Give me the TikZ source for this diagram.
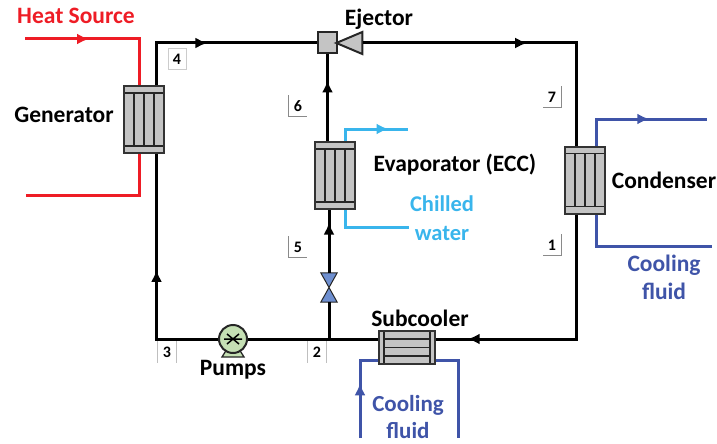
\documentclass[tikz,border=0pt]{standalone}
\usepackage{fontspec}
\setmainfont{Carlito}
\usetikzlibrary{arrows.meta, decorations.markings, shapes.geometric, calc}
\definecolor{hxgray}{HTML}{C4C4C4}
\definecolor{srcred}{HTML}{EE1C25}
\definecolor{coolblue}{HTML}{3F54A8}
\definecolor{chillblue}{HTML}{39B5EC}
\definecolor{pumpgreen}{HTML}{C5E0B4}
\definecolor{valveblue}{HTML}{6E8FD0}
\definecolor{tagline}{HTML}{8A8A8A}

\begin{document}
\begin{tikzpicture}[
    x=1pt, y=-1pt,
    hxv/.style={draw=black!80, line width=2pt, fill=hxgray, minimum width=40pt, minimum height=67pt, inner sep=0pt,
                path picture={
                    \draw[black!85, line width=1.8pt]
                        ([yshift=-7pt]path picture bounding box.north west) -- ([yshift=-7pt]path picture bounding box.north east)
                        ([yshift=7pt]path picture bounding box.south west) -- ([yshift=7pt]path picture bounding box.south east)
                        ([xshift=-10pt,yshift=-7pt]path picture bounding box.north) -- ([xshift=-10pt,yshift=7pt]path picture bounding box.south)
                        ([yshift=-7pt]path picture bounding box.north) -- ([yshift=7pt]path picture bounding box.south)
                        ([xshift=10pt,yshift=-7pt]path picture bounding box.north) -- ([xshift=10pt,yshift=7pt]path picture bounding box.south);
                }},
    hxh/.style={draw=black!80, line width=2pt, fill=hxgray, minimum width=56pt, minimum height=33pt, inner sep=0pt,
                path picture={
                    \draw[black!85, line width=1.8pt]
                        ([xshift=5pt]path picture bounding box.north west) -- ([xshift=5pt]path picture bounding box.south west)
                        ([xshift=-5pt]path picture bounding box.north east) -- ([xshift=-5pt]path picture bounding box.south east)
                        ([xshift=5pt,yshift=-8pt]path picture bounding box.north west) -- ([xshift=-5pt,yshift=-8pt]path picture bounding box.north east)
                        ([xshift=5pt]path picture bounding box.west) -- ([xshift=-5pt]path picture bounding box.east)
                        ([xshift=5pt,yshift=8pt]path picture bounding box.south west) -- ([xshift=-5pt,yshift=8pt]path picture bounding box.south east);
                }},
    lbl/.style={font=\bfseries\fontsize{23.5}{26}\selectfont, align=center, inner sep=0pt},
    tag/.style={font=\bfseries\fontsize{16}{18}\selectfont, inner sep=0pt, minimum width=18pt, minimum height=21pt},
    tagedge/.style={tagline, line width=0.7pt},
    main/.style={black, line width=3pt},
    fluid/.style={line width=3pt},
    midtip/.style={postaction={decorate, decoration={markings, mark=at position #1 with {\arrow{Latex[length=12pt,width=11pt]}}}}},
]
\useasboundingbox (0,0) rectangle (717,444);
% heat exchangers
\node[hxv] (generator) at (144,119.5) {};
\node[hxv] (evaporator) at (335,175.5) {};
\node[hxv] (condenser) at (585,180) {};
\node[hxh] (subcooler) at (407,347.5) {};
% ejector
\node[draw=black!85, line width=2pt, fill=hxgray, minimum width=19pt, minimum height=21pt, inner sep=0pt] (mixer) at (327.5,43) {};
\node[draw=black!85, line width=2pt, fill=hxgray, isosceles triangle, isosceles triangle apex angle=80, isosceles triangle stretches, shape border rotate=180, minimum width=22pt, minimum height=26pt, inner sep=0pt] (ejector) at (355,43) {};
% pump and valve
\fill[pumpgreen, draw=black!85, line width=1.3pt] (222,357) -- (244,357) -- (239,349) -- (227,349) -- cycle;
\node[circle, draw=black!85, line width=2pt, fill=pumpgreen, minimum size=28pt, inner sep=0pt] (pump) at (233,339) {};
\draw[black, line width=1.5pt] (pump.center) ++(-9,0) -- ++(18,0) (pump.center) ++(-6,-5) -- ++(12,10) (pump.center) ++(-6,5) -- ++(12,-10);
\node[inner sep=0pt, minimum width=16pt, minimum height=29pt] (valve) at (329,287.5) {};
\fill[valveblue, draw=black!85, line width=1pt] (valve.north west) -- (valve.north east) -- (valve.center) -- (valve.south east) -- (valve.south west) -- (valve.center) -- cycle;
% main loop
\coordinate (c4) at (156,43);
\coordinate (c7) at (576,43);
\coordinate (c1) at (576,339);
\coordinate (c3) at (156.5,339);
\coordinate (c2) at (329,339);
\draw[main, midtip=0.46] (generator.north -| c4) -- (c4) -- (mixer.west);
\draw[main, midtip=0.52] (ejector.east) -- (c7) -- (condenser.north -| c7);
\draw[main, midtip=0.88] (condenser.south -| c1) -- (c1) -- (subcooler.east |- c1);
\draw[main] (subcooler.west |- c2) -- (c2) -- (pump.east);
\draw[main, midtip=0.53] (pump.west) -- (c3) -- (generator.south -| c3);
\draw[main] (c2) -- (valve.south);
\draw[main, midtip=0.8] (valve.north) -- (evaporator.south -| valve.north);
\draw[main, midtip=0.7] (evaporator.north -| mixer.south) -- (mixer.south);
% fluid lines
\coordinate (hsin) at (25,39);
\coordinate (hs1) at (139,39);
\coordinate (hs2) at (139,195);
\coordinate (hsout) at (26,195);
\draw[fluid, srcred, midtip=0.4] (hsin) -- (hs1) -- (generator.north -| hs1);
\draw[fluid, srcred] (generator.south -| hs2) -- (hs2) -- (hsout);
\coordinate (ch1) at (345,129);
\coordinate (ch2) at (345,227);
\coordinate (chout) at (408,129);
\coordinate (chin) at (409,227);
\draw[fluid, chillblue, midtip=0.74] (evaporator.north -| ch1) -- (ch1) -- (chout);
\draw[fluid, chillblue] (evaporator.south -| ch2) -- (ch2) -- (chin);
\coordinate (cd1) at (596,119);
\coordinate (cd2) at (596,246);
\coordinate (cdout) at (707,119);
\coordinate (cdin) at (712,246);
\draw[fluid, coolblue, midtip=0.58] (condenser.north -| cd1) -- (cd1) -- (cdout);
\draw[fluid, coolblue] (condenser.south -| cd2) -- (cd2) -- (cdin);
\coordinate (sc1) at (360,360);
\coordinate (sc2) at (458,360);
\coordinate (scin) at (360,438);
\coordinate (scout) at (458,438);
\draw[fluid, coolblue, midtip=0.57] (scin) -- (sc1) -- (subcooler.west |- sc1);
\draw[fluid, coolblue] (subcooler.east |- sc2) -- (sc2) -- (scout);
% labels
\node[lbl, text=srcred] (heat) at (76,16) {Heat Source};
\node[lbl] (ejtext) at (379,19) {Ejector};
\node[lbl] (gentext) at (64,115) {Generator};
\node[lbl] (evtext) at (455,165) {Evaporator (ECC)};
\node[lbl] (cdtext) at (664,180) {Condenser};
\node[lbl] (sctext) at (420,318) {Subcooler};
\node[lbl] (pumptext) at (233,370) {Pumps};
\node[lbl, text=chillblue, font=\bfseries\fontsize{22.5}{29}\selectfont] (chtext) at (442,218) {Chilled\\water};
\node[lbl, text=coolblue, font=\bfseries\fontsize{23.5}{28}\selectfont] (cdfluid) at (664,277) {Cooling\\fluid};
\node[lbl, text=coolblue, font=\bfseries\fontsize{23}{27}\selectfont] (scfluid) at (408,417) {Cooling\\fluid};
% state points
\node[tag, draw=black!20, line width=0.7pt] (t4) at (177,59) {4};
\node[tag] (t6) at (298,106) {6};
\draw[tagedge] (t6.north west) -- (t6.south west) -- (t6.south east);
\node[tag] (t5) at (298,247) {5};
\draw[tagedge] (t5.north west) -- (t5.south west) -- (t5.south east);
\node[tag] (t7) at (552,97) {7};
\draw[tagedge] (t7.north east) -- (t7.south east) -- (t7.south west);
\node[tag] (t1) at (552,245) {1};
\draw[tagedge] (t1.north east) -- (t1.south east) -- (t1.south west);
\node[tag] (t3) at (167,352) {3};
\draw[tagedge, black!25] (t3.north west) -- (t3.south west) (t3.north east) -- (t3.south east);
\node[tag] (t2) at (317,352) {2};
\draw[tagedge, black!25] (t2.north west) -- (t2.south west) (t2.north east) -- (t2.south east);
\end{tikzpicture}
\end{document}
